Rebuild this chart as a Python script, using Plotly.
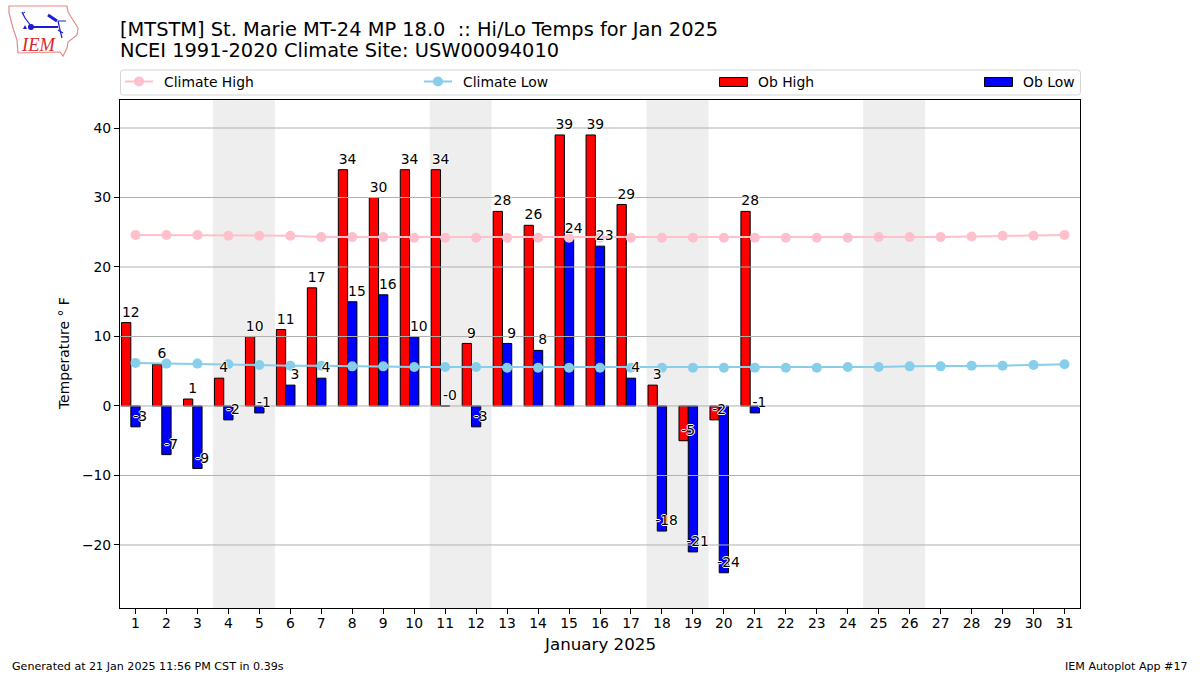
import plotly.graph_objects as go

W, H = 1200, 675
L, R, T, B = 120, 1080, 100, 608

days = list(range(1, 32))
ob_high = [12, 6, 1, 4, 10, 11, 17, 34, 30, 34, 34, 9, 28, 26, 39, 39, 29, 3, -5, -2, 28]
ob_low = [-3, -7, -9, -2, -1, 3, 4, 15, 16, 10, 0, -3, 9, 8, 24, 23, 4, -18, -21, -24, -1]
low_labels = ["-3", "-7", "-9", "-2", "-1", "3", "4", "15", "16", "10", "-0", "-3", "9", "8",
              "24", "23", "4", "-18", "-21", "-24", "-1"]
climate_high = [24.6, 24.6, 24.6, 24.5, 24.5, 24.5, 24.3, 24.3, 24.3, 24.2, 24.2, 24.2, 24.2, 24.2, 24.2, 24.2,
                24.2, 24.2, 24.2, 24.2, 24.2, 24.2, 24.2, 24.2, 24.3, 24.3, 24.3, 24.4, 24.5, 24.5, 24.6]
climate_low = [6.2, 6.1, 6.1, 6.0, 5.9, 5.8, 5.8, 5.7, 5.7, 5.6, 5.6, 5.6, 5.5, 5.5, 5.5, 5.5,
               5.5, 5.5, 5.5, 5.5, 5.5, 5.5, 5.5, 5.6, 5.6, 5.7, 5.7, 5.8, 5.8, 5.9, 6.0]
weekends = [(3.5, 5.5), (10.5, 12.5), (17.5, 19.5), (24.5, 26.5)]
y_ticks = [-20, -10, 0, 10, 20, 30, 40]
y_tick_text = ["\u221220", "\u221210", "0", "10", "20", "30", "40"]
legend_names = ["Climate High", "Climate Low", "Ob High", "Ob Low"]

FONT = "DejaVu Sans"
HALO = "-1px 0 0 white, 1px 0 0 white, 0 -1px 0 white, 0 1px 0 white"
LABEL_LIFT = 0.35
px = lambda x: (x - L) / (R - L)
py = lambda y: (B - y) / (B - T)

fig = go.Figure()
obs_days = days[:len(ob_high)]
fig.add_bar(x=[d - 0.3 for d in obs_days], y=ob_high, width=0.3, name="Ob High",
            marker=dict(color="#ff0000", line=dict(color="black", width=1)), showlegend=False)
fig.add_bar(x=obs_days, y=ob_low, width=0.3, name="Ob Low",
            marker=dict(color="#0000ff", line=dict(color="black", width=1)), showlegend=False)

# grid drawn above the bars, as in the reference
gx, gy = [], []
for t in y_ticks:
    gx += [0.5, 31.5, None]
    gy += [t, t, None]
fig.add_scatter(x=gx, y=gy, mode="lines", line=dict(color="#b0b0b0", width=1),
                hoverinfo="skip", showlegend=False)

fig.add_scatter(x=days, y=climate_high, mode="lines+markers", name="Climate High", showlegend=False,
                line=dict(color="#ffc0cb", width=2), marker=dict(color="#ffc0cb", size=10))
fig.add_scatter(x=days, y=climate_low, mode="lines+markers", name="Climate Low", showlegend=False,
                line=dict(color="#87ceeb", width=2), marker=dict(color="#87ceeb", size=10))

fig.add_scatter(x=[d - 0.15 for d in obs_days], y=[v + LABEL_LIFT for v in ob_high], mode="text",
                text=[str(v) for v in ob_high],
                textposition="top center", showlegend=False, hoverinfo="skip",
                textfont=dict(family=FONT, size=13.9, color="black", shadow=HALO))
fig.add_scatter(x=[d + 0.15 for d in obs_days], y=[v + LABEL_LIFT for v in ob_low], mode="text", text=low_labels,
                textposition="top center", showlegend=False, hoverinfo="skip",
                textfont=dict(family=FONT, size=13.9, color="black", shadow=HALO))

shapes = [dict(type="rect", xref="x", yref="paper", x0=a, x1=b, y0=0, y1=1, layer="below",
               fillcolor="#eeeeee", line=dict(width=0)) for a, b in weekends]
annotations = []


def ptext(x, y, s, size, anchor="left", color="black", **kw):
    annotations.append(dict(xref="paper", yref="paper", x=px(x), y=py(y), text=s, showarrow=False,
                            xanchor=anchor, yanchor="middle", align=anchor, borderpad=0,
                            font=dict(family=kw.pop("family", FONT), size=size, color=color), **kw))


ptext(119, 29, "[MTSTM] St. Marie MT-24 MP 18.0&nbsp;&nbsp;:: Hi/Lo Temps for Jan 2025", 19.4)
ptext(119, 51, "NCEI 1991-2020 Climate Site: USW00094010", 19.4)
ptext(599.5, 644, "January 2025", 16.7, "center")
ptext(64, 354, "Temperature \u00b0 F", 13.9, "center", textangle=-90)
ptext(11, 666, "Generated at 21 Jan 2025 11:56 PM CST in 0.39s", 11.1)
ptext(1189, 666, "IEM Autoplot App #17", 11.1, "right")

# legend frame and entries
r = 3
x0, x1, y0, y1 = px(120.5), px(1080.5), py(95), py(70)
rx, ry = r / (R - L), r / (B - T)
shapes.append(dict(type="path", xref="paper", yref="paper",
                   path=f"M{x0+rx},{y0} L{x1-rx},{y0} Q{x1},{y0} {x1},{y0+ry} L{x1},{y1-ry} Q{x1},{y1} {x1-rx},{y1} "
                        f"L{x0+rx},{y1} Q{x0},{y1} {x0},{y1-ry} L{x0},{y0+ry} Q{x0},{y0} {x0+rx},{y0} Z",
                   line=dict(color="#d5d5d5", width=1), fillcolor="white"))
for name, lx, tx, col in [(legend_names[0], 125, 163, "#ffc0cb"), (legend_names[1], 424, 462, "#87ceeb")]:
    shapes.append(dict(type="line", xref="paper", yref="paper", x0=px(lx), x1=px(lx + 28), y0=py(81.5), y1=py(81.5),
                       line=dict(color=col, width=2)))
    shapes.append(dict(type="circle", xref="paper", yref="paper", x0=px(lx + 9), x1=px(lx + 19),
                       y0=py(86.5), y1=py(76.5), fillcolor=col, line=dict(width=0)))
    ptext(tx, 81.5, name, 13.9)
for name, lx, tx, col in [(legend_names[2], 719, 757, "#ff0000"), (legend_names[3], 984, 1022, "#0000ff")]:
    shapes.append(dict(type="rect", xref="paper", yref="paper", x0=px(lx + .5), x1=px(lx + 28.5), y0=py(86.5), y1=py(77.5),
                       fillcolor=col, line=dict(color="black", width=1)))
    ptext(tx, 81.5, name, 13.9)


# IEM logo (approximate hand drawing)
def poly(pts, close=True):
    return "M" + " L".join(f"{px(a)},{py(b)}" for a, b in pts) + (" Z" if close else "")


iowa = [(9, 6), (67, 6), (68, 12), (73, 20), (78, 28), (77, 35), (68, 42), (67, 48), (63, 56), (60, 52),
        (18, 53), (17, 40), (13, 28), (9, 13)]
shapes.append(dict(type="path", xref="paper", yref="paper", path=poly(iowa), line=dict(color="#e88a8a", width=1.2)))
BLUE = "#1a1ad8"
for seg, w in [([(22, 12), (25, 18), (31, 26)], 1.2), ([(31, 27), (58, 27)], 2), ([(58, 21), (66, 21)], 1),
               ([(48, 15), (57, 21)], 3), ([(58, 21), (60, 30), (62, 38)], 1.2), ([(58, 30), (63, 33)], 1.2),
               ([(22, 14), (25, 12)], 1)]:
    shapes.append(dict(type="path", xref="paper", yref="paper", path=poly(seg, False), line=dict(color=BLUE, width=w)))
shapes.append(dict(type="circle", xref="paper", yref="paper", x0=px(28), x1=px(34), y0=py(30), y1=py(24),
                   fillcolor=BLUE, line=dict(width=0)))
shapes.append(dict(type="path", xref="paper", yref="paper", path=poly([(25, 25), (27, 29), (23, 29)]),
                   fillcolor=BLUE, line=dict(width=0)))
ptext(20, 45, "<i>IEM</i>", 18.5, color="#d62a2a", family="Liberation Serif")

fig.update_layout(
    width=W, height=H, autosize=False,
    margin=dict(l=L, r=W - R, t=T, b=H - B, pad=0),
    paper_bgcolor="white", plot_bgcolor="white",
    barmode="overlay", showlegend=False, shapes=shapes, annotations=annotations,
    font=dict(family=FONT, size=13.9, color="black"),
    xaxis=dict(range=[0.5, 31.5], tickmode="array", tickvals=days, ticktext=[str(d) for d in days],
               ticks="outside", ticklen=5, tickwidth=1, tickcolor="black", showgrid=False, zeroline=False,
               showline=True, linecolor="black", linewidth=1, mirror=True, tickangle=0, ticklabelstandoff=-3),
    yaxis=dict(range=[-29.07, 44.03], tickmode="array", tickvals=y_ticks, ticktext=y_tick_text,
               ticks="outside", ticklen=5, tickwidth=1, tickcolor="black", showgrid=False, zeroline=False,
               showline=True, linecolor="black", linewidth=1, mirror=True),
)
fig.write_html("out.html", config=dict(displayModeBar=False), post_script="document.body.style.margin='0';")
